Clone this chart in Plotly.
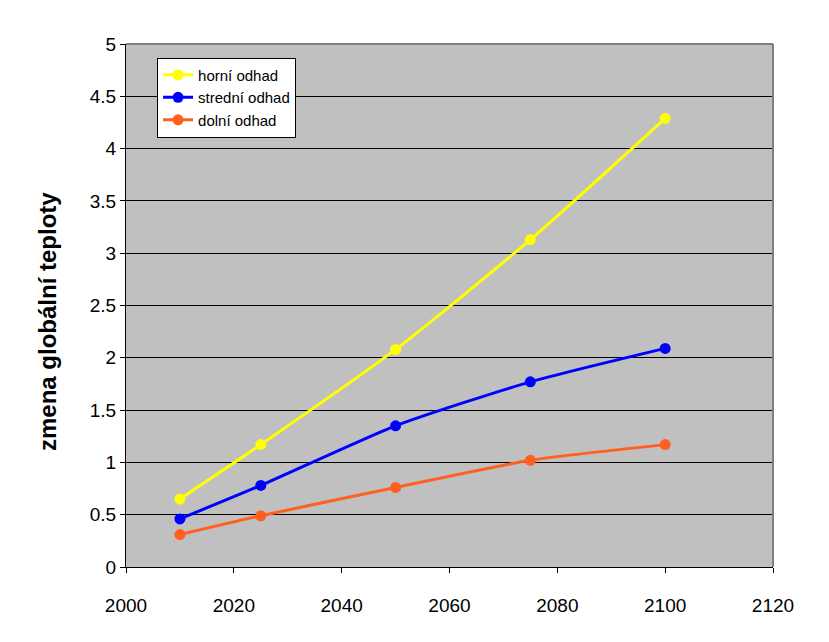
import plotly.graph_objects as go

years = [2010, 2025, 2050, 2075, 2100]
horni = [0.65, 1.17, 2.08, 3.13, 4.29]
stredni = [0.46, 0.78, 1.35, 1.77, 2.09]
dolni = [0.31, 0.49, 0.76, 1.02, 1.17]

series = [
    ("horní odhad", horni, "#FFFF00"),
    ("strední odhad", stredni, "#0000FF"),
    ("dolní odhad", dolni, "#FF6020"),
]

fig = go.Figure()
for name, vals, col in series:
    fig.add_trace(go.Scatter(
        x=years, y=vals, name=name, mode="lines+markers",
        line=dict(color=col, width=3, shape="spline", smoothing=0.6),
        marker=dict(color=col, size=11, symbol="circle"),
    ))

fig.update_layout(
    width=829, height=642,
    margin=dict(l=126, r=56, t=44, b=75),
    paper_bgcolor="white",
    plot_bgcolor="#C0C0C0",
    font=dict(family="Arial, Liberation Sans", color="black", size=19),
    legend=dict(
        x=0.048, y=0.974, xanchor="left", yanchor="top",
        bgcolor="white", bordercolor="black", borderwidth=1,
        font=dict(size=15), tracegroupgap=0, itemwidth=30,
    ),
    xaxis=dict(
        range=[2000, 2120], tick0=2000, dtick=20, showgrid=False,
        showline=True, linecolor="black", linewidth=1, mirror=False,
        ticks="outside", ticklen=5, tickcolor="black", zeroline=False,
        ticklabelstandoff=16,
    ),
    yaxis=dict(
        range=[0, 5], tick0=0, dtick=0.5, showgrid=True, gridcolor="black",
        gridwidth=1, showline=True, linecolor="black", linewidth=1,
        ticks="outside", ticklen=5, tickcolor="black", zeroline=False,
    ),
    showlegend=True,
)
fig.add_annotation(text="<b>zmena globální teploty</b>", xref="paper", yref="paper",
                   x=(48 - 126) / 647, y=(567 - 322) / 523, textangle=-90,
                   showarrow=False, font=dict(size=24), xanchor="center", yanchor="middle")
fig.add_shape(type="line", xref="paper", yref="paper", x0=0, y0=1, x1=1, y1=1,
              line=dict(color="#808080", width=2), layer="above")
fig.add_shape(type="line", xref="paper", yref="paper", x0=1, y0=0, x1=1, y1=1,
              line=dict(color="#808080", width=2), layer="above")

fig.write_html("out.html")
